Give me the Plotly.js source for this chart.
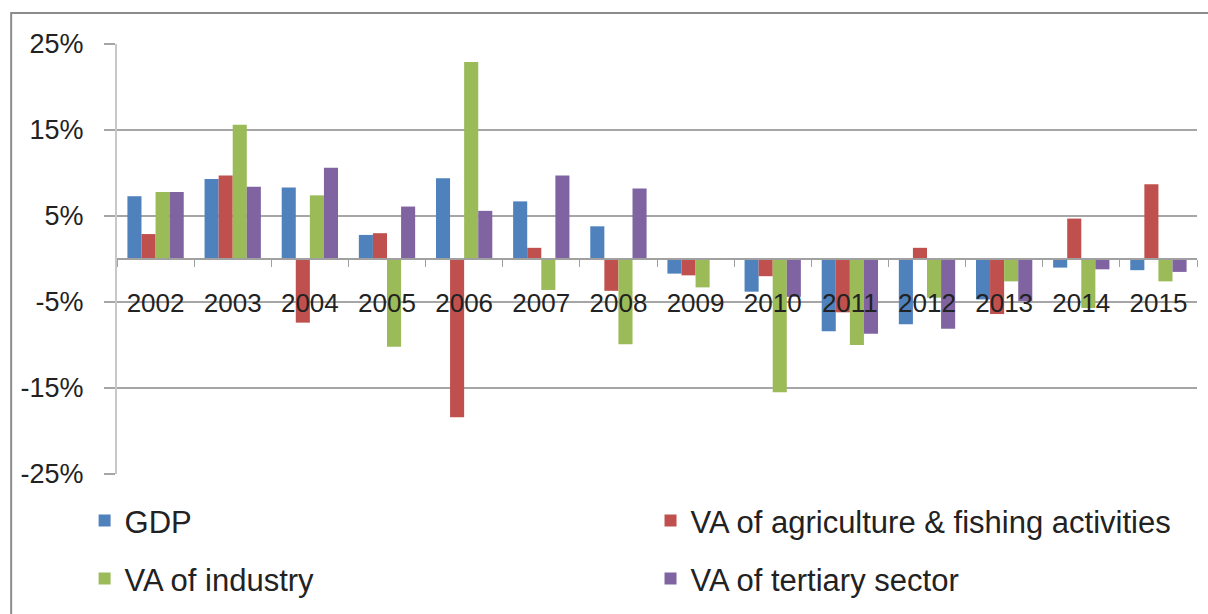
<!DOCTYPE html>
<html>
<head>
<meta charset="utf-8">
<script src="https://cdn.plot.ly/plotly-3.0.1.min.js"></script>
<style>
  html, body { margin: 0; padding: 0; background: #ffffff; }
  #chart { width: 1208px; height: 614px; }
</style>
</head>
<body>
<div id="chart"></div>
<script>
// Annual growth rates, 2002-2015 (%)
const years = ['2002','2003','2004','2005','2006','2007','2008','2009','2010','2011','2012','2013','2014','2015'];

const gdp         = [7.3, 9.3, 8.3, 2.8, 9.4, 6.7, 3.8, -1.7, -3.8, -8.4, -7.6, -4.7, -1.0, -1.3];
const agriculture = [2.9, 9.7, -7.4, 3.0, -18.4, 1.3, -3.7, -1.9, -2.0, -6.2, 1.3, -6.4, 4.7, 8.7];
const industry    = [7.8, 15.6, 7.4, -10.2, 22.9, -3.6, -9.9, -3.3, -15.5, -10.0, -4.5, -2.6, -5.7, -2.6];
const tertiary    = [7.8, 8.4, 10.6, 6.1, 5.6, 9.7, 8.2, 0.1, -4.4, -8.7, -8.1, -4.9, -1.2, -1.5];

const seriesNames = ['GDP', 'VA of agriculture & fishing activities', 'VA of industry', 'VA of tertiary sector'];

const yTickValues = [-25, -15, -5, 5, 15, 25];
const yTickLabels = yTickValues.map(v => v + '%');

const colors = ['#4f81bd', '#c0504d', '#9bbb59', '#8064a2'];
const textFont = 'Liberation Sans, Arial, sans-serif';
const textColor = '#222222';

// one legend box per series, laid out as a 2x2 grid under the plot
const legendIds = ['legend', 'legend2', 'legend3', 'legend4'];
const legendSpots = [
  { x: -0.03,  y: -0.109 },
  { x: 0.494,  y: -0.109 },
  { x: -0.03,  y: -0.244 },
  { x: 0.494,  y: -0.244 }
];

const data = [gdp, agriculture, industry, tertiary].map((values, i) => ({
  type: 'bar',
  x: years,
  y: values,
  name: seriesNames[i],
  marker: { color: colors[i] },
  legend: legendIds[i],
  hoverinfo: 'x+y+name'
}));

const layout = {
  width: 1208,
  height: 614,
  margin: { l: 117, r: 11, t: 44, b: 140, autoexpand: false },
  paper_bgcolor: '#ffffff',
  plot_bgcolor: '#ffffff',
  font: { family: textFont, size: 26, color: textColor },
  barmode: 'group',
  bargap: 0.27,
  bargroupgap: 0,
  showlegend: true,
  xaxis: {
    type: 'category',
    anchor: 'free',
    position: 0.5,
    showline: true,
    linecolor: '#a0a0a0',
    linewidth: 2,
    ticks: 'outside',
    tickson: 'boundaries',
    ticklen: 7,
    tickwidth: 1,
    tickcolor: '#a0a0a0',
    ticklabelstandoff: 21,
    showgrid: false,
    zeroline: false,
    tickfont: { family: textFont, size: 26, color: textColor }
  },
  yaxis: {
    range: [-25, 25],
    tickmode: 'array',
    tickvals: yTickValues,
    ticktext: yTickLabels,
    showgrid: true,
    gridcolor: '#a6a6a6',
    gridwidth: 2,
    zeroline: false,
    showline: true,
    linecolor: '#c8c8c8',
    linewidth: 2,
    ticks: 'outside',
    ticklen: 11,
    tickwidth: 2,
    tickcolor: '#a6a6a6',
    ticklabelstandoff: 15,
    tickfont: { family: textFont, size: 27, color: textColor }
  },
  shapes: [
    {
      // outer chart frame
      type: 'rect',
      xref: 'paper', yref: 'paper',
      x0: -0.098, x1: 1.06,
      y0: -0.42, y1: 1.072,
      line: { color: '#8c8c8c', width: 2 },
      fillcolor: 'rgba(0,0,0,0)',
      layer: 'below'
    }
  ]
};

legendIds.forEach((id, i) => {
  layout[id] = {
    orientation: 'h',
    x: legendSpots[i].x,
    y: legendSpots[i].y,
    xanchor: 'left',
    yanchor: 'middle',
    itemwidth: 30,
    bgcolor: 'rgba(0,0,0,0)',
    font: { family: textFont, size: 31, color: textColor }
  };
});

Plotly.newPlot('chart', data, layout, { displayModeBar: false, staticPlot: true });
</script>
</body>
</html>
